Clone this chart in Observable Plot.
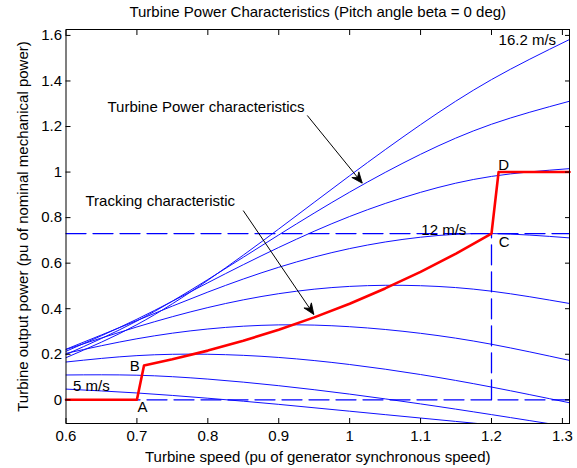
<!DOCTYPE html>
<html>
<head>
<meta charset="utf-8">
<script src="https://cdn.jsdelivr.net/npm/d3@7"></script>
<script src="https://cdn.jsdelivr.net/npm/@observablehq/plot@0.6"></script>
<style>
  html, body { margin: 0; padding: 0; background: #fff; }
  #chart { width: 577px; height: 468px; }
</style>
</head>
<body>
<div id="chart"></div>
<script>
// Rotor speed samples (pu of generator synchronous speed)
const speeds = [0.6, 0.7, 0.8, 0.9, 1.0, 1.1, 1.2, 1.31];
// Wind speeds (m/s) for each power curve
const windSpeeds = [5, 6.4, 7.8, 9.2, 10.6, 12, 13.4, 14.8, 16.2];
// Turbine output power (pu) at the speeds above
const p5    = [0.047, 0.030, 0.007, -0.020, -0.050, -0.080, -0.110, -0.143];
const p6_4  = [0.109, 0.108, 0.091, 0.062, 0.025, -0.018, -0.065, -0.119];
const p7_8  = [0.166, 0.194, 0.200, 0.186, 0.155, 0.111, 0.056, -0.013];
const p9_2  = [0.204, 0.268, 0.311, 0.329, 0.321, 0.292, 0.244, 0.173];
const p10_6 = [0.221, 0.320, 0.405, 0.466, 0.498, 0.501, 0.477, 0.423];
const p12   = [0.222, 0.348, 0.473, 0.582, 0.664, 0.714, 0.730, 0.711];
const p13_4 = [0.213, 0.354, 0.514, 0.669, 0.805, 0.911, 0.981, 1.015];
const p14_8 = [0.199, 0.346, 0.528, 0.724, 0.912, 1.078, 1.210, 1.311];
const p16_2 = [0.185, 0.330, 0.525, 0.750, 0.984, 1.208, 1.406, 1.582];

// Tracking characteristic A-B-C-D (red)
const trackSpeed = [0.6, 0.7, 0.71, 0.75, 0.8, 0.85, 0.9, 0.95, 1.0, 1.05, 1.1, 1.15, 1.2, 1.21, 1.31];
const trackPower = [0, 0, 0.151, 0.178, 0.216, 0.259, 0.308, 0.362, 0.422, 0.489, 0.562, 0.642, 0.73, 1.0, 1.0];

// Reference (dashed) lines: zero level, 0.73 pu level, 1.2 pu speed
const dashId    = ["zero", "zero", "level", "level", "speed", "speed"];
const dashSpeed = [0.6, 1.31, 0.6, 1.31, 1.2, 1.2];
const dashPower = [0, 0, 0.73, 0.73, 0, 0.73];

// Axis ticks
const xTicks = [0.6, 0.7, 0.8, 0.9, 1.0, 1.1, 1.2, 1.3];
const yTicks = [0, 0.2, 0.4, 0.6, 0.8, 1.0, 1.2, 1.4, 1.6];

// Annotation texts
const startLabels = [
  {text: "16.2 m/s", x: 1.21, y: 1.578},
  {text: "12 m/s", x: 1.101, y: 0.7435},
  {text: "5 m/s", x: 0.610, y: 0.060},
  {text: "Turbine Power characteristics", x: 0.6585, y: 1.285},
  {text: "Tracking characteristic", x: 0.6275, y: 0.871}
];
const pointLabels = [
  {text: "A", x: 0.708, y: -0.0325},
  {text: "B", x: 0.697, y: 0.146},
  {text: "C", x: 1.218, y: 0.692},
  {text: "D", x: 1.217, y: 1.029}
];
const arrows = [
  {x1: 0.9402, y1: 1.2486, x2: 1.0178, y2: 0.951},
  {x1: 0.8499, y1: 0.831, x2: 0.9495, y2: 0.3746}
];

const title = "Turbine Power Characteristics (Pitch angle beta = 0 deg)";
const xLabel = "Turbine speed (pu of generator synchronous speed)";
const yLabel = "Turbine output power (pu of nominal mechanical power)";

const series = [p5, p6_4, p7_8, p9_2, p10_6, p12, p13_4, p14_8, p16_2];
const curves = series.flatMap((ps, i) => ps.map((p, j) => ({wind: windSpeeds[i], speed: speeds[j], power: p})));
const track = trackSpeed.map((s, i) => ({speed: s, power: trackPower[i]}));
const dashed = dashId.map((id, i) => ({id, speed: dashSpeed[i], power: dashPower[i]}));

const font = "'Liberation Sans', Arial, Helvetica, sans-serif";
const fmt = d => String(d);

// filled arrow head marker (MATLAB annotation style)
function filledHead(color, context) {
  const doc = (context && context.document) || document;
  const ns = "http://www.w3.org/2000/svg";
  const m = doc.createElementNS(ns, "marker");
  m.setAttribute("viewBox", "-12 -6 12 12");
  m.setAttribute("markerUnits", "userSpaceOnUse");
  m.setAttribute("markerWidth", "12");
  m.setAttribute("markerHeight", "12");
  m.setAttribute("orient", "auto");
  m.setAttribute("refX", "0");
  m.setAttribute("refY", "0");
  const p = doc.createElementNS(ns, "path");
  p.setAttribute("d", "M0,0L-11,-4.5L-7.5,0L-11,4.5Z");
  p.setAttribute("fill", "black");
  p.setAttribute("stroke", "black");
  p.setAttribute("stroke-width", "0.8");
  m.appendChild(p);
  return m;
}

const chart = Plot.plot({
  width: 577,
  height: 468,
  marginLeft: 65.5,
  marginRight: 8,
  marginTop: 29,
  marginBottom: 45,
  style: {fontSize: "15px", fontFamily: font, color: "black", background: "white"},
  x: {domain: [0.6, 1.31]},
  y: {domain: [-0.104, 1.626]},
  marks: [
    Plot.line(curves, {x: "speed", y: "power", z: "wind", stroke: "#1010ff", strokeWidth: 1, curve: "natural", clip: true}),
    Plot.line(dashed, {x: "speed", y: "power", z: "id", stroke: "#0000ff", strokeWidth: 1.3, strokeDasharray: "20 7"}),
    Plot.line(track, {x: "speed", y: "power", stroke: "#ff0000", strokeWidth: 2.6}),
    Plot.link(arrows, {x1: "x1", y1: "y1", x2: "x2", y2: "y2", stroke: "black", strokeWidth: 1, markerEnd: filledHead}),
    Plot.text(startLabels, {x: "x", y: "y", text: "text", textAnchor: "start", lineAnchor: "middle", fontSize: 15, fill: "black"}),
    Plot.text(pointLabels, {x: "x", y: "y", text: "text", textAnchor: "middle", lineAnchor: "middle", fontSize: 15, fill: "black"}),
    Plot.frame({stroke: "black"}),
    Plot.axisX(xTicks, {anchor: "bottom", tickSize: -5, tickPadding: 12, tickFormat: fmt, label: null, fontSize: 15}),
    Plot.axisX(xTicks, {anchor: "top", tickSize: -5, tickFormat: () => "", label: null}),
    Plot.axisY(yTicks, {anchor: "left", tickSize: -5, tickPadding: 9, tickFormat: fmt, label: null, fontSize: 15}),
    Plot.axisY(yTicks, {anchor: "right", tickSize: -5, tickFormat: () => "", label: null}),
    Plot.text([title], {frameAnchor: "top", dy: -17, textAnchor: "middle", lineAnchor: "middle", fontSize: 15, fill: "black"}),
    Plot.text([xLabel], {frameAnchor: "bottom", dy: 33.7, textAnchor: "middle", lineAnchor: "middle", fontSize: 15, fill: "black"}),
    Plot.text([yLabel], {frameAnchor: "left", dx: -42.8, rotate: -90, textAnchor: "middle", lineAnchor: "middle", fontSize: 15, fill: "black"})
  ]
});
document.getElementById("chart").appendChild(chart);
</script>
</body>
</html>
